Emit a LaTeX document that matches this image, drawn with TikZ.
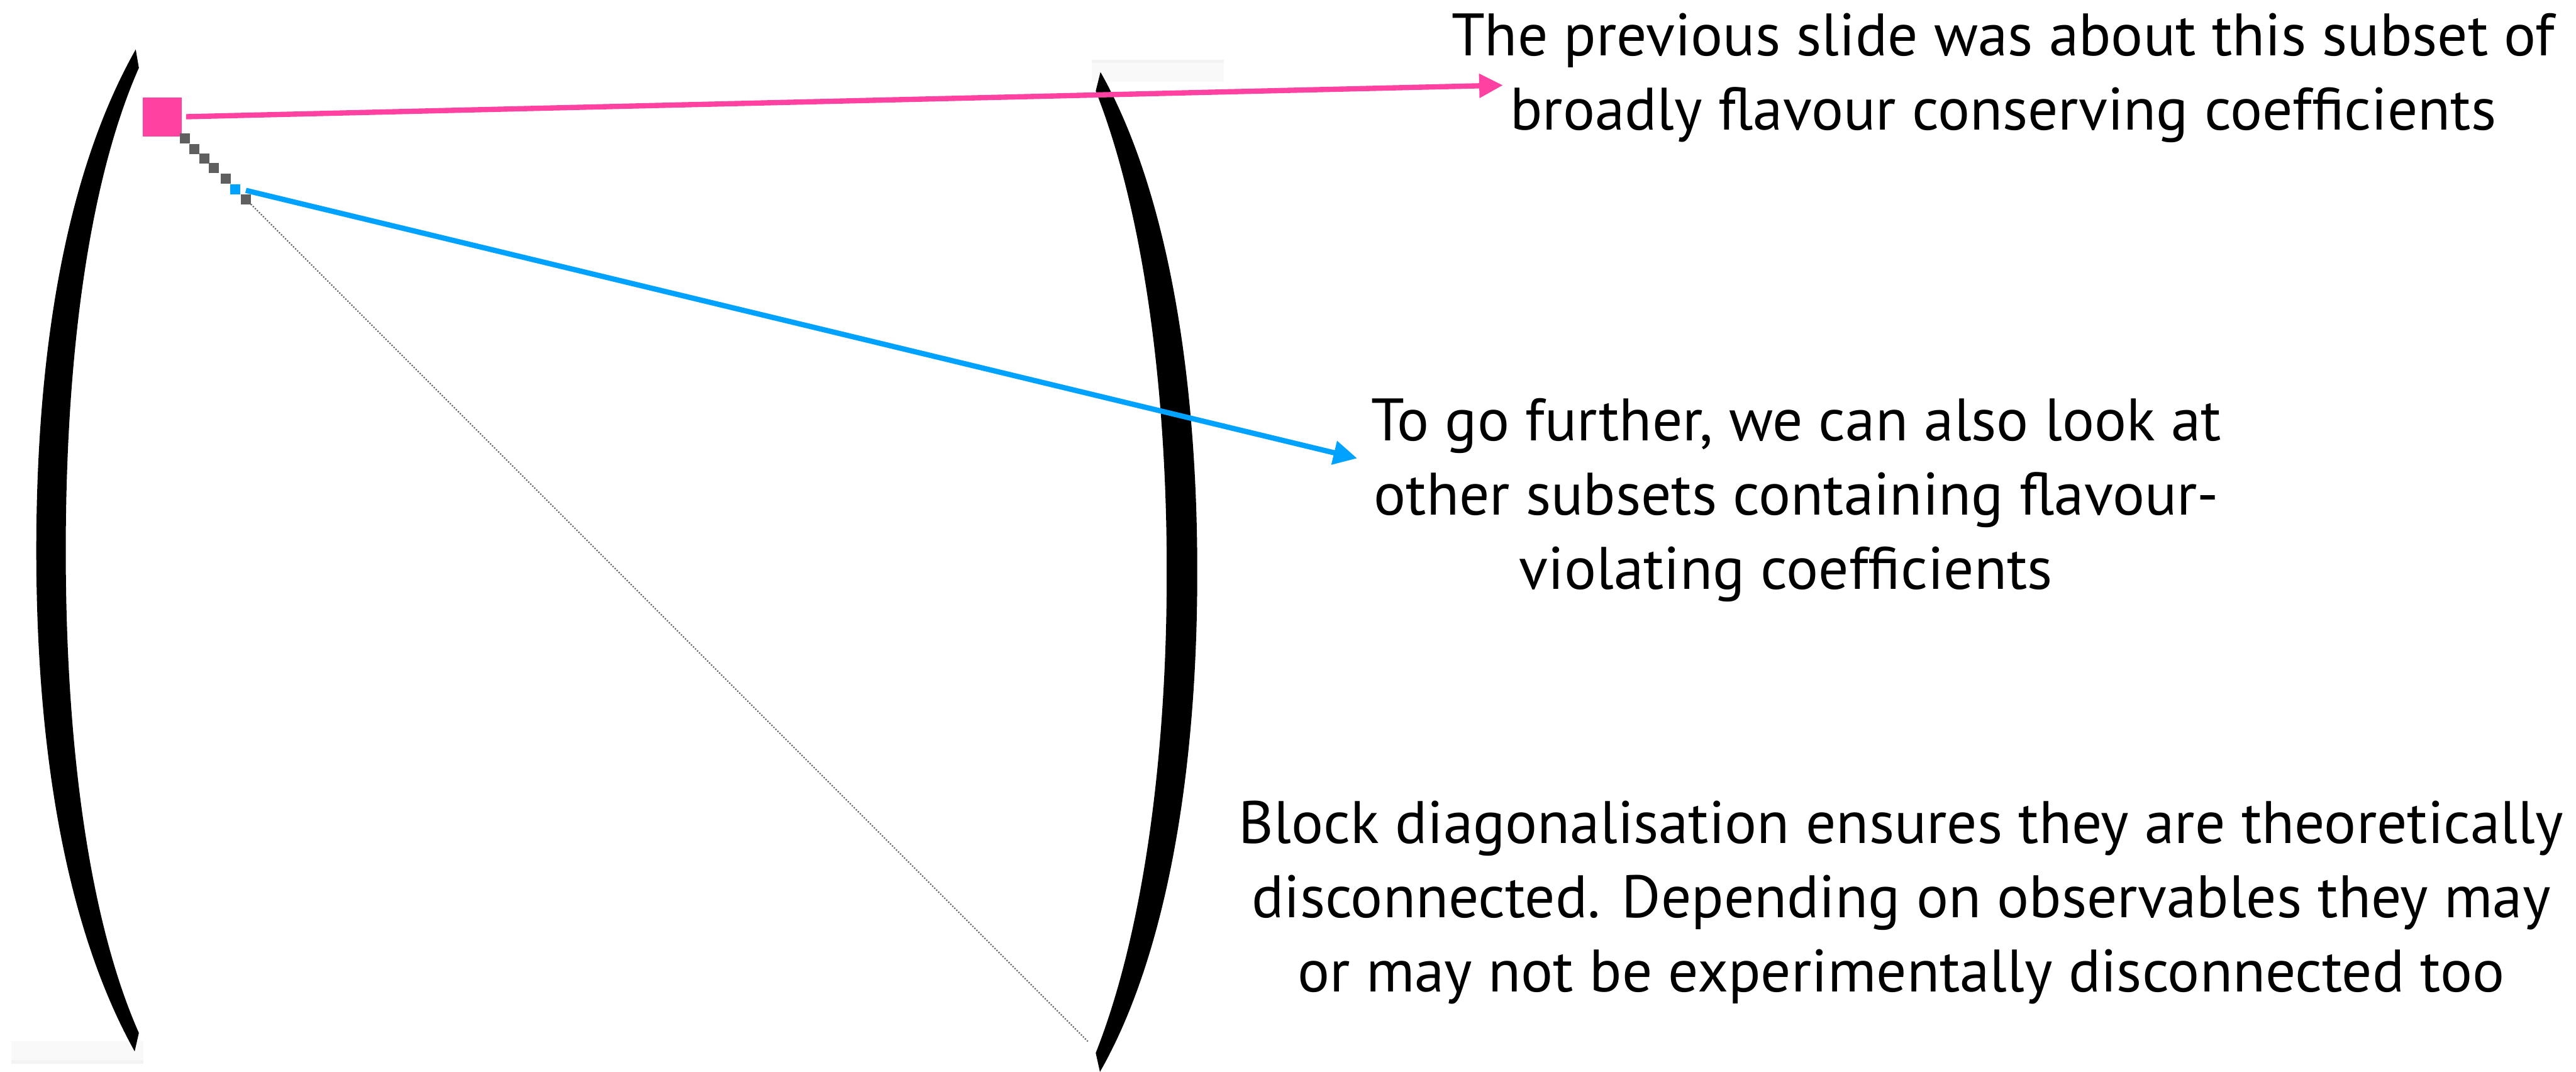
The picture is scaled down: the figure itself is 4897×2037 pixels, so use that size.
\documentclass[tikz,border=0pt]{standalone}
\usepackage{fontspec}
\setmainfont{PT Sans}
\usetikzlibrary{arrows.meta}
\definecolor{pinkc}{HTML}{FF42A1}
\definecolor{bluec}{HTML}{00A2FF}
\definecolor{grayc}{HTML}{5F5F5F}
\definecolor{faintA}{HTML}{F9F9F9}
\definecolor{faintB}{HTML}{F3F3F3}
\tikzset{
  cell/.style={rectangle, fill=grayc, inner sep=0pt, minimum size=0.19cm},
  bigcell/.style={rectangle, fill=pinkc, inner sep=0pt, minimum size=0.74cm},
  bluecell/.style={cell, fill=bluec},
  callout/.style={line width=0.1cm, -{Triangle[length=0.45cm,width=0.44cm]}},
  note/.style={align=center, anchor=base, inner sep=0pt, text=black,
    font=\fontsize{32.4pt}{40.2pt}\selectfont},
  brack/.style={fill=black}
}
\begin{document}
\begin{tikzpicture}[x=0.01cm, y=-0.01cm]
\useasboundingbox (0,0) rectangle (4897,2037);
\fill[white] (0,0) rectangle (4897,2037);
% faint strips
\fill[faintA] (2076,113) rectangle (2327,156);
\fill[faintB] (2076,113) rectangle (2327,120);
\fill[faintA] (21,1979) rectangle (272,2022);
\fill[faintB] (21,2015) rectangle (272,2022);
% left bracket
\fill[brack] (258,94) .. controls (130,320) and (69,650) .. (69,1046)
  .. controls (69,1442) and (130,1772) .. (256,1998)
  -- (264,1963) .. controls (175,1762) and (125,1442) .. (125,1046)
  .. controls (125,650) and (175,330) .. (264,129) -- cycle;
% right bracket
\fill[brack] (2092,137) .. controls (2210,345) and (2276,680) .. (2276,1087)
  .. controls (2276,1494) and (2210,1829) .. (2091,2037)
  -- (2083,2001) .. controls (2165,1794) and (2218,1474) .. (2218,1087)
  .. controls (2218,700) and (2165,380) .. (2083,173) -- cycle;
% dotted diagonal
\draw[grayc, line width=0.025cm, dash pattern=on 0.025cm off 0.029cm] (477,388) -- (2068,1979);
% diagonal blocks
\node[bigcell] (pk) at (308,222) {};
\node[cell] (c1) at (351.5,263.5) {};
\node[cell] (c2) at (369.5,283.5) {};
\node[cell] (c3) at (388.5,301.5) {};
\node[cell] (c4) at (406.5,319.5) {};
\node[cell] (c5) at (429.5,339.5) {};
\node[bluecell] (bl) at (447.5,359.5) {};
\node[cell] (c7) at (467.5,378.5) {};
% texts (anchor = baseline of last line)
\node[note] (t1) at (3808,247) {The previous slide was about this subset of\\broadly flavour conserving coefficients};
\node[note] (t2) at (3415,1120) {To go further, we can also look at\\other subsets containing flavour-\\violating coefficients\hspace*{0.4cm}};
\node[note] (t3) at (3614,1885) {Block diagonalisation ensures they are theoretically\\disconnected. Depending on observables they may\\or may not be experimentally disconnected too};
% arrows
\coordinate (pinkend) at (2857,162);
\coordinate (blueend) at (2580,871);
\draw[callout, pinkc, shorten <=0.08cm] (pk.east) -- (pinkend);
\draw[callout, bluec, shorten <=0.1cm] (bl.east) -- (blueend);
\end{tikzpicture}
\end{document}
